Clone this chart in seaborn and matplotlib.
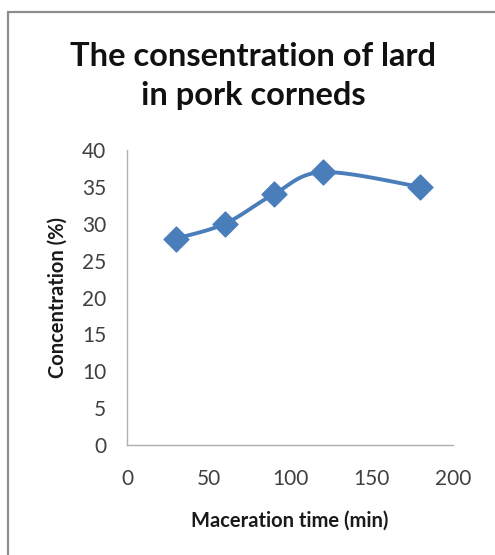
import numpy as np
import matplotlib
matplotlib.use("Agg")
import matplotlib.pyplot as plt
import seaborn as sns
from matplotlib.patches import Rectangle

time_min = [30, 60, 90, 120, 180]
concentration = [28, 30, 34, 37, 35]
x_ticks = [0, 50, 100, 150, 200]
y_ticks = [0, 5, 10, 15, 20, 25, 30, 35, 40]
title = "The consentration of lard\nin pork corneds"
xlabel = "Maceration time (min)"
ylabel = "Concentration (%)"

sns.set_theme(style="white")
plt.rcParams['font.family'] = ['Lato', 'DejaVu Sans']

color = "#4a7ebb"

def catmull_rom(xs, ys, n=30):
    xs = np.asarray(xs, float); ys = np.asarray(ys, float)
    px = np.concatenate([[xs[0]], xs, [xs[-1]]])
    py = np.concatenate([[ys[0]], ys, [ys[-1]]])
    outx, outy = [], []
    for i in range(1, len(px) - 2):
        p0 = np.array([px[i-1], py[i-1]]); p1 = np.array([px[i], py[i]])
        p2 = np.array([px[i+1], py[i+1]]); p3 = np.array([px[i+2], py[i+2]])
        c1 = p1 + (p2 - p0) / 6.0
        c2 = p2 - (p3 - p1) / 6.0
        t = np.linspace(0, 1, n)[:, None]
        b = (1-t)**3*p1 + 3*(1-t)**2*t*c1 + 3*(1-t)*t**2*c2 + t**3*p2
        outx.extend(b[:, 0]); outy.extend(b[:, 1])
    return np.array(outx), np.array(outy)

fig = plt.figure(figsize=(4.95, 5.55), dpi=100)
ax = fig.add_axes([0.2566, 0.198, 0.6584, 0.5317])

sx, sy = catmull_rom(time_min, concentration)
ax.plot(sx, sy, color=color, lw=2.8, solid_capstyle="round", zorder=2)
sns.scatterplot(x=time_min, y=concentration, ax=ax, marker="D", s=160,
                color=color, edgecolor=color, zorder=3, legend=False)

ax.set_xlim(0, 200)
ax.set_ylim(0, 40)
ax.set_xticks(x_ticks)
ax.set_yticks(y_ticks)
for s in ["top", "right"]:
    ax.spines[s].set_visible(False)
for s in ["left", "bottom"]:
    ax.spines[s].set_color("#b0b0b0")
    ax.spines[s].set_linewidth(1.0)
ax.tick_params(axis="both", which="both", direction="out", length=6, width=1,
               color="#b0b0b0", labelsize=15, labelcolor="#404040")
ax.tick_params(axis="y", pad=9)
ax.tick_params(axis="x", pad=11)
ax.set_xlabel(xlabel, fontsize=14.5, fontweight="bold", color="#1a1a1a", labelpad=16)
ax.set_ylabel(ylabel, fontsize=14.5, fontweight="bold", color="#1a1a1a", labelpad=10)

fig.text(0.511, 0.863, title, ha="center", va="center", fontsize=23.5,
         fontweight="bold", color="#111111", linespacing=1.4)

fig.patches.append(Rectangle((0.016, -0.05), 1.2, 0.978 + 0.05, transform=fig.transFigure,
                             fill=False, edgecolor="#8c8c8c", lw=1.6))

fig.savefig("out.png", dpi=100)
